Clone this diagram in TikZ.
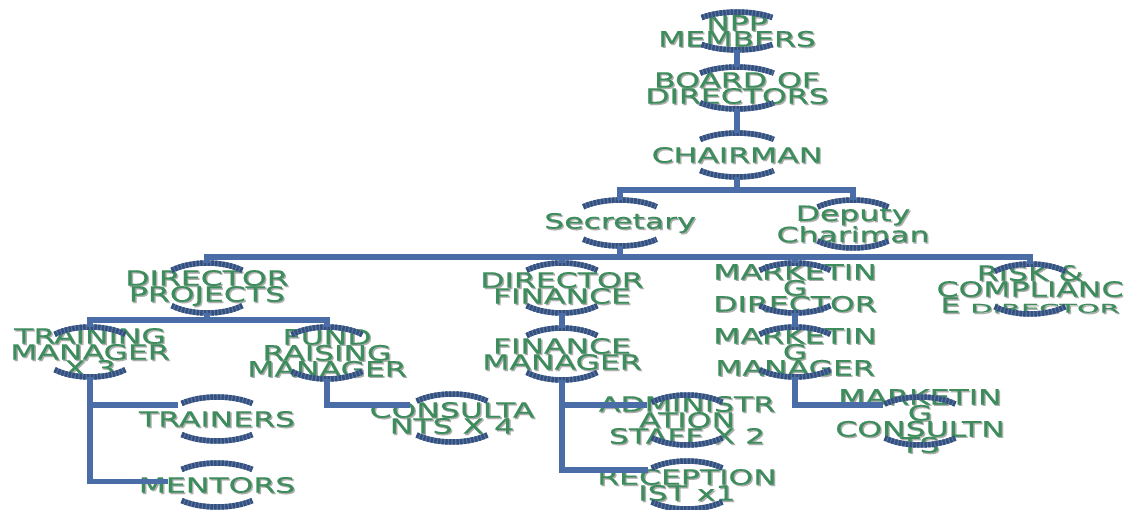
\documentclass[tikz,border=0pt]{standalone}
\usepackage{fontspec}
\usepackage{graphicx}
\newfontfamily\orgfont[FakeStretch=1.5,FakeBold=0.5]{DejaVu Sans}
\usetikzlibrary{shapes.geometric}
\definecolor{txtgreen}{HTML}{3C8C5C}
\definecolor{linkblue}{HTML}{4A6DA7}
\definecolor{rimdark}{HTML}{33507F}
\definecolor{rimlight}{HTML}{5C76A2}
\tikzset{
  oval/.style={shape=ellipse, inner sep=0pt, outer sep=0pt},
  txt/.style={text=txtgreen, font=\orgfont\fontsize{21}{16}\selectfont, align=center, inner sep=0pt},
  shd/.style={txt, text=black!32, xshift=1.4pt, yshift=-1.4pt},
  link/.style={draw=linkblue, line width=5.5pt},
  rim/.style={draw=rimdark, line width=5.5pt, dash pattern=on 2.5pt off 1.2pt,
              preaction={draw=rimlight, solid, line width=5.5pt}},
}
\newcommand\smallword[1]{{\fontsize{12}{12}\selectfont\scalebox{1.6}[1]{#1}}}
\newcommand\orgbox[6]{%
  \node[oval, minimum width={2*#4pt}, minimum height={2*#5pt},
        label={[shd]center:#6}, label={[txt]center:#6}] (#1) at (#2,-#3) {};
  \draw[rim] ([shift={(135:#4 and #5)}]#1.center) arc[start angle=135, end angle=45, x radius=#4, y radius=#5];
  \draw[rim] ([shift={(225:#4 and #5)}]#1.center) arc[start angle=225, end angle=315, x radius=#4, y radius=#5];
}
\begin{document}
\begin{tikzpicture}[x=1pt,y=1pt]
\useasboundingbox[fill=white] (0,0) rectangle (1129,-510);

\orgbox{npp}{737}{31}{50}{19}{NPP\\MEMBERS}
\orgbox{board}{737}{88}{52}{21}{BOARD OF\\DIRECTORS}
\orgbox{chair}{737}{155}{52}{22}{CHAIRMAN}
\orgbox{sec}{620}{223}{52}{23}{Secretary}
\orgbox{dep}{853}{224}{50}{24}{Deputy\\Chariman}
\orgbox{dproj}{207}{288}{50}{25}{DIRECTOR\\PROJECTS}
\orgbox{dfin}{562}{288}{50}{25}{DIRECTOR\\FINANCE}
\orgbox{mdir}{795}{288}{50}{25}{MARKETIN\\G\\DIRECTOR}
\orgbox{risk}{1030}{289}{50}{25}{RISK \&\\COMPLIANC\\E \smallword{DIRECTOR}}
\orgbox{train}{90}{352}{50}{25}{TRAINING\\MANAGER\\X 3}
\orgbox{fund}{327}{353}{50}{26}{FUND\\RAISING\\MANAGER}
\orgbox{trainers}{217}{419}{50}{22}{TRAINERS}
\orgbox{mentors}{217}{485}{50}{22}{MENTORS}
\orgbox{consult}{452}{418}{50}{24}{CONSULTA\\NTS X 4}
\orgbox{finman}{562}{354}{50}{26}{FINANCE\\MANAGER}
\orgbox{admin}{687}{420}{50}{25}{ADMINISTR\\ATION\\STAFF X 2}
\orgbox{recep}{687}{485}{50}{24}{RECEPTION\\IST x1}
\orgbox{mman}{795}{352}{50}{25}{MARKETIN\\G\\MANAGER}
\orgbox{mcons}{920}{421}{50}{24}{MARKETIN\\G\\CONSULTN\\TS}

\draw[link] (npp.south) -- (board.north);
\draw[link] (board.south) -- (chair.north);
\draw[link] (chair.south) -- ++(0,-13) -| (sec.north);
\draw[link] (chair.south) -- ++(0,-13) -| (dep.north);
\foreach \c in {dproj,dfin,mdir,risk}
  \draw[link] (sec.south) -- ++(0,-11) -| (\c.north);
\draw[link] (dproj.south) -- ++(0,-7) -| (train.north);
\draw[link] (dproj.south) -- ++(0,-7) -| (fund.north);
\draw[link] (dfin.south) -- (finman.north);
\draw[link] (mdir.south) -- (mman.north);
\draw[link] (train.south) |- (trainers.160);
\draw[link] (train.south) |- (mentors.176);
\draw[link] (fund.south) |- (consult.163);
\draw[link] (finman.south) |- (admin.159);
\draw[link] (finman.south) |- (recep.159);
\draw[link] (mman.south) |- (mcons.157);
\end{tikzpicture}
\end{document}
